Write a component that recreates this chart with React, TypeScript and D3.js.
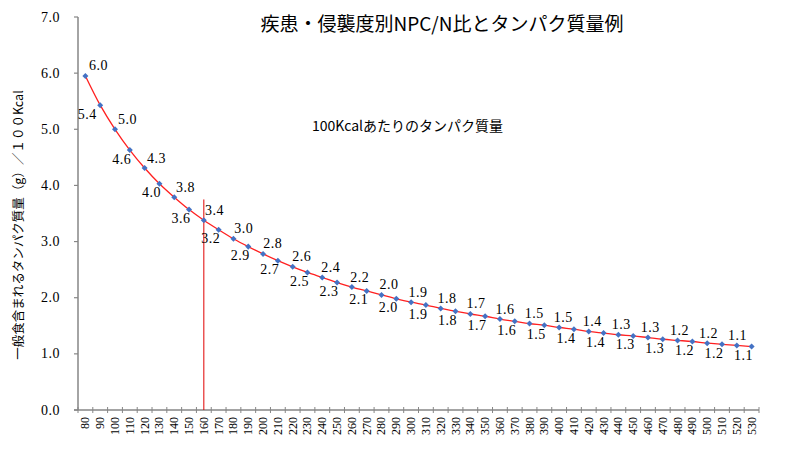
import React from 'react';
import * as d3 from 'd3';

// NPC/N ratio categories
const categories = [
  80, 90, 100, 110, 120, 130, 140, 150, 160, 170, 180, 190, 200, 210, 220, 230,
  240, 250, 260, 270, 280, 290, 300, 310, 320, 330, 340, 350, 360, 370, 380, 390,
  400, 410, 420, 430, 440, 450, 460, 470, 480, 490, 500, 510, 520, 530,
];

// protein (g) per 100kcal
const proteinValues = [
  5.95, 5.43, 5.0, 4.63, 4.31, 4.03, 3.79, 3.57, 3.38, 3.21, 3.05, 2.91, 2.78, 2.66, 2.55, 2.45,
  2.36, 2.27, 2.19, 2.12, 2.05, 1.98, 1.92, 1.87, 1.81, 1.76, 1.71, 1.67, 1.62, 1.58, 1.54, 1.51,
  1.47, 1.44, 1.4, 1.37, 1.34, 1.32, 1.29, 1.26, 1.24, 1.22, 1.19, 1.17, 1.15, 1.13,
];

const valueLabels = [
  '6.0', '5.4', '5.0', '4.6', '4.3', '4.0', '3.8', '3.6', '3.4', '3.2', '3.0', '2.9', '2.8', '2.7', '2.6', '2.5',
  '2.4', '2.3', '2.2', '2.1', '2.0', '2.0', '1.9', '1.9', '1.8', '1.8', '1.7', '1.7', '1.6', '1.6', '1.5', '1.5',
  '1.5', '1.4', '1.4', '1.4', '1.3', '1.3', '1.3', '1.3', '1.2', '1.2', '1.2', '1.2', '1.1', '1.1',
];

const yTicks = [0, 1, 2, 3, 4, 5, 6, 7];

// red marker line
const markerCategory = 160;
const markerTop = 3.75;

const title = '疾患・侵襲度別NPC/N比とタンパク質量例';
const seriesNote = '100Kcalあたりのタンパク質量';
const yTitle = '一般食含まれるタンパク質量（g）／１００Kcal';

const numFont = '"Liberation Serif", "DejaVu Serif", serif';
const jpFont = '"Noto Sans CJK JP", sans-serif';

export default function App() {
  const width = 800;
  const height = 450;
  const left = 78;
  const right = 759;
  const top = 17;
  const bottom = 410;

  const x = d3.scaleBand<number>().domain(categories).range([left, right]).padding(0);
  const y = d3.scaleLinear().domain([0, 7]).range([bottom, top]);
  const cx = (c: number) => (x(c) ?? 0) + x.bandwidth() / 2;

  const line = d3
    .line<number>()
    .x((_, i) => cx(categories[i]))
    .y((v) => y(v))
    .curve(d3.curveCatmullRom.alpha(0.5));

  const marker = d3.symbol().type(d3.symbolSquare).size(18)() || '';
  const axisColor = '#868686';

  return (
    <svg
      width={width}
      height={height}
      style={{ position: 'absolute', left: 0, top: 0, background: '#fff' }}
    >
      <text x={442} y={31} textAnchor="middle" fontFamily={jpFont} fontSize={19} fill="#000">
        {title}
      </text>
      <text x={312} y={131} fontFamily={jpFont} fontSize={14} fill="#000">
        {seriesNote}
      </text>
      <text
        transform={`translate(23,${225}) rotate(-90)`}
        textAnchor="middle"
        fontFamily={jpFont}
        fontSize={12.5}
        fill="#000"
      >
        {yTitle}
      </text>

      {/* y axis */}
      <line x1={left} x2={left} y1={top} y2={bottom} stroke={axisColor} strokeWidth={1.5} />
      {yTicks.map((t) => (
        <g key={t}>
          <line x1={left - 4} x2={left} y1={y(t)} y2={y(t)} stroke={axisColor} strokeWidth={1.2} />
          <text
            x={60}
            y={y(t)}
            textAnchor="end"
            dominantBaseline="central"
            fontFamily={numFont}
            fontSize={14}
            letterSpacing={0.5}
            fill="#000"
          >
            {t.toFixed(1)}
          </text>
        </g>
      ))}

      {/* x axis */}
      <line x1={left - 4} x2={right} y1={bottom} y2={bottom} stroke={axisColor} strokeWidth={1.5} />
      {categories.map((c) => (
        <line
          key={'t' + c}
          x1={x(c) ?? 0}
          x2={x(c) ?? 0}
          y1={bottom - 3}
          y2={bottom + 3}
          stroke={axisColor}
          strokeWidth={1}
        />
      ))}
      <line x1={right} x2={right} y1={bottom - 3} y2={bottom + 3} stroke={axisColor} strokeWidth={1} />
      {categories.map((c) => (
        <text
          key={'l' + c}
          transform={`translate(${cx(c) + 4},${bottom + 7}) rotate(-90)`}
          textAnchor="end"
          fontFamily={numFont}
          fontSize={12}
          fill="#000"
        >
          {c}
        </text>
      ))}

      {/* marker line */}
      <line
        x1={cx(markerCategory)}
        x2={cx(markerCategory)}
        y1={y(markerTop)}
        y2={y(0)}
        stroke="#e00000"
        strokeWidth={1}
      />

      <path d={line(proteinValues) || ''} fill="none" stroke="#ff2020" strokeWidth={1.3} />
      {proteinValues.map((v, i) => (
        <path
          key={'m' + i}
          d={marker}
          transform={`translate(${cx(categories[i])},${y(v)}) rotate(45)`}
          fill="#4472c4"
        />
      ))}

      {proteinValues.map((v, i) => {
        const above = i % 2 === 0;
        const dx = above ? 13 - i * 0.28 : i === 1 ? -13 : -8;
        const dy = above ? -10 : 9;
        return (
          <text
            key={'v' + i}
            x={cx(categories[i]) + dx}
            y={y(v) + dy}
            textAnchor="middle"
            dominantBaseline="central"
            fontFamily={numFont}
            fontSize={14}
            letterSpacing={0.5}
            fill="#000"
          >
            {valueLabels[i]}
          </text>
        );
      })}
    </svg>
  );
}
